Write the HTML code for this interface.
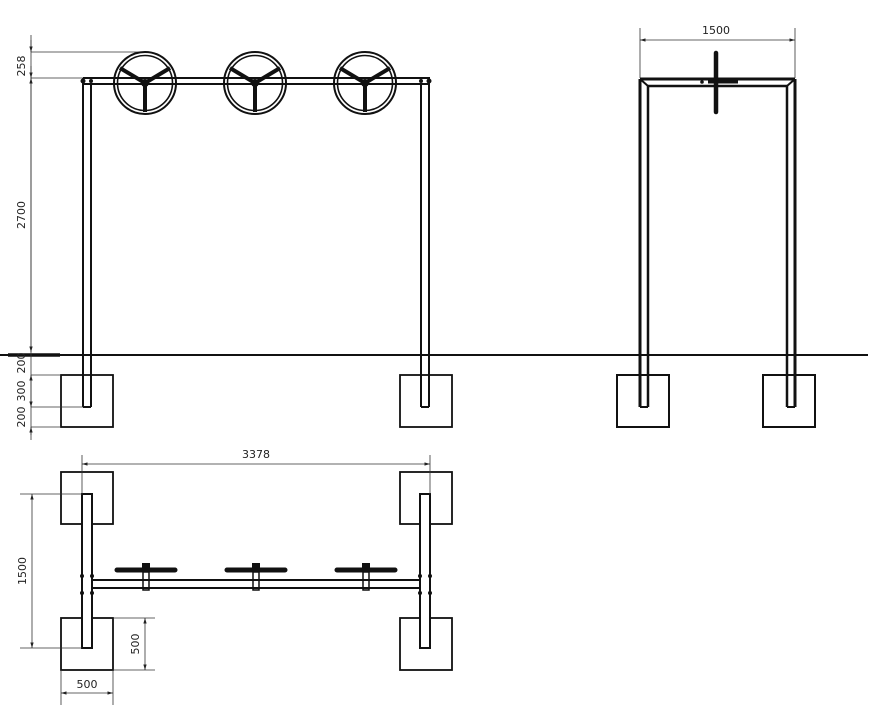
<!DOCTYPE html>
<html><head><meta charset="utf-8"><style>
html,body{margin:0;padding:0;background:#fff;}
svg{display:block;}
text{font-family:"DejaVu Sans","Liberation Sans",sans-serif;font-size:11px;fill:#222;}
</style></head><body>
<svg width="873" height="709" viewBox="0 0 873 709" xmlns="http://www.w3.org/2000/svg">
<defs>
<marker id="a" viewBox="0 0 10 10" refX="10" refY="5" markerWidth="7" markerHeight="7" orient="auto-start-reverse"><path d="M0,2 L10,5 L0,8 z" fill="#222"/></marker>
<g id="wheel">
<circle r="31" fill="none" stroke="#111" stroke-width="2"/>
<circle r="27.5" fill="none" stroke="#111" stroke-width="1.6"/>
<line x1="0" y1="0" x2="-25" y2="-15" stroke="#111" stroke-width="4"/>
<line x1="0" y1="0" x2="25" y2="-15" stroke="#111" stroke-width="4"/>
<line x1="0" y1="0" x2="0" y2="29" stroke="#111" stroke-width="4"/>
<circle r="4" fill="#111"/>
</g>
<g id="bike">
<line x1="-29" y1="0" x2="29" y2="0" stroke="#111" stroke-width="5" stroke-linecap="round"/>
<rect x="-4" y="-7" width="8" height="9" fill="#111"/>
<rect x="-3" y="2" width="6" height="18" fill="none" stroke="#111" stroke-width="1.5"/>
</g>
</defs>
<g stroke="#111" fill="none">
<!-- FRONT VIEW -->
<line x1="83" y1="78" x2="430" y2="78" stroke-width="2"/>
<line x1="83" y1="84" x2="430" y2="84" stroke-width="2"/>
<line x1="83" y1="78" x2="83" y2="407" stroke-width="2"/>
<line x1="91" y1="84" x2="91" y2="407" stroke-width="2"/>
<line x1="421" y1="84" x2="421" y2="407" stroke-width="2"/>
<line x1="429" y1="78" x2="429" y2="407" stroke-width="2"/>
<line x1="83" y1="407" x2="91" y2="407" stroke-width="2"/>
<line x1="421" y1="407" x2="429" y2="407" stroke-width="2"/>
<rect x="61" y="375" width="52" height="52" stroke-width="1.8"/>
<rect x="400" y="375" width="52" height="52" stroke-width="1.8"/>
<!-- ground -->
<line x1="0" y1="355" x2="868" y2="355" stroke-width="2"/>
<line x1="8" y1="355" x2="60" y2="355" stroke-width="3.5"/>
<!-- dims front -->
<g stroke-width="0.8" stroke="#333">
<line x1="31" y1="35" x2="31" y2="435" />
<line x1="31" y1="40" x2="31" y2="52" marker-end="url(#a)"/>
<line x1="31" y1="52" x2="140" y2="52"/>
<line x1="31" y1="78" x2="83" y2="78"/>
<line x1="31" y1="66" x2="31" y2="78" marker-end="url(#a)"/>
<line x1="31" y1="78" x2="31" y2="352" marker-start="url(#a)" marker-end="url(#a)"/>
<line x1="31" y1="375" x2="61" y2="375"/>
<line x1="31" y1="407" x2="83" y2="407"/>
<line x1="31" y1="427" x2="61" y2="427"/>
<line x1="31" y1="375" x2="31" y2="407" marker-start="url(#a)" marker-end="url(#a)"/>
<line x1="31" y1="440" x2="31" y2="427" marker-end="url(#a)"/>
</g>
<!-- SIDE VIEW -->
<line x1="640" y1="79" x2="795" y2="79" stroke-width="3"/>
<line x1="648" y1="86" x2="787" y2="86" stroke-width="2.5"/>
<line x1="640" y1="79" x2="640" y2="407" stroke-width="3"/>
<line x1="648" y1="86" x2="648" y2="407" stroke-width="2.5"/>
<line x1="787" y1="86" x2="787" y2="407" stroke-width="2.5"/>
<line x1="795" y1="79" x2="795" y2="407" stroke-width="3"/>
<line x1="640" y1="79" x2="648" y2="86" stroke-width="2"/>
<line x1="795" y1="79" x2="787" y2="86" stroke-width="2"/>
<line x1="640" y1="407" x2="648" y2="407" stroke-width="2"/>
<line x1="787" y1="407" x2="795" y2="407" stroke-width="2"/>
<rect x="617" y="375" width="52" height="52" stroke-width="2"/>
<rect x="763" y="375" width="52" height="52" stroke-width="2"/>
<line x1="716" y1="53" x2="716" y2="112" stroke-width="4.5" stroke-linecap="round"/>
<line x1="708" y1="82" x2="738" y2="82" stroke-width="3"/>
<g stroke-width="0.8" stroke="#333">
<line x1="640" y1="28" x2="640" y2="78"/>
<line x1="795" y1="28" x2="795" y2="78"/>
<line x1="640" y1="40" x2="795" y2="40" marker-start="url(#a)" marker-end="url(#a)"/>
</g>
<!-- TOP VIEW -->
<rect x="61" y="472" width="52" height="52" stroke-width="1.8"/>
<rect x="61" y="618" width="52" height="52" stroke-width="1.8"/>
<rect x="400" y="472" width="52" height="52" stroke-width="1.8"/>
<rect x="400" y="618" width="52" height="52" stroke-width="1.8"/>
<rect x="82" y="494" width="10" height="154" stroke-width="2" fill="#fff"/>
<rect x="420" y="494" width="10" height="154" stroke-width="2" fill="#fff"/>
<line x1="92" y1="580" x2="420" y2="580" stroke-width="2"/>
<line x1="92" y1="588" x2="420" y2="588" stroke-width="2"/>
<g stroke-width="0.8" stroke="#333">
<line x1="82" y1="455" x2="82" y2="494"/>
<line x1="430" y1="455" x2="430" y2="494"/>
<line x1="82" y1="464" x2="430" y2="464" marker-start="url(#a)" marker-end="url(#a)"/>
<line x1="20" y1="494" x2="82" y2="494"/>
<line x1="20" y1="648" x2="82" y2="648"/>
<line x1="32" y1="494" x2="32" y2="648" marker-start="url(#a)" marker-end="url(#a)"/>
<line x1="113" y1="618" x2="155" y2="618"/>
<line x1="113" y1="670" x2="155" y2="670"/>
<line x1="145" y1="618" x2="145" y2="670" marker-start="url(#a)" marker-end="url(#a)"/>
<line x1="61" y1="670" x2="61" y2="705"/>
<line x1="113" y1="670" x2="113" y2="705"/>
<line x1="61" y1="693" x2="113" y2="693" marker-start="url(#a)" marker-end="url(#a)"/>
</g>
</g>
<!-- joint dots -->
<g fill="#111">
<circle cx="83" cy="81" r="2.5"/><circle cx="91" cy="81" r="2"/>
<circle cx="421" cy="81" r="2"/><circle cx="429" cy="81" r="2.5"/>
<circle cx="82" cy="576" r="2"/><circle cx="92" cy="576" r="2"/>
<circle cx="82" cy="593" r="2"/><circle cx="92" cy="593" r="2"/>
<circle cx="420" cy="576" r="2"/><circle cx="430" cy="576" r="2"/>
<circle cx="420" cy="593" r="2"/><circle cx="430" cy="593" r="2"/>
<circle cx="702" cy="82" r="1.8"/>
</g>
<use href="#wheel" x="145" y="83"/>
<use href="#wheel" x="255" y="83"/>
<use href="#wheel" x="365" y="83"/>
<use href="#bike" x="146" y="570"/>
<use href="#bike" x="256" y="570"/>
<use href="#bike" x="366" y="570"/>
<!-- labels -->
<text transform="translate(25,66) rotate(-90)" text-anchor="middle">258</text>
<text transform="translate(25,215) rotate(-90)" text-anchor="middle">2700</text>
<text transform="translate(25,363) rotate(-90)" text-anchor="middle">200</text>
<text transform="translate(25,391) rotate(-90)" text-anchor="middle">300</text>
<text transform="translate(25,417) rotate(-90)" text-anchor="middle">200</text>
<text x="716" y="34" text-anchor="middle">1500</text>
<text x="256" y="458" text-anchor="middle">3378</text>
<text transform="translate(26,571) rotate(-90)" text-anchor="middle">1500</text>
<text transform="translate(139,644) rotate(-90)" text-anchor="middle">500</text>
<text x="87" y="688" text-anchor="middle">500</text>
</svg>
</body></html>
